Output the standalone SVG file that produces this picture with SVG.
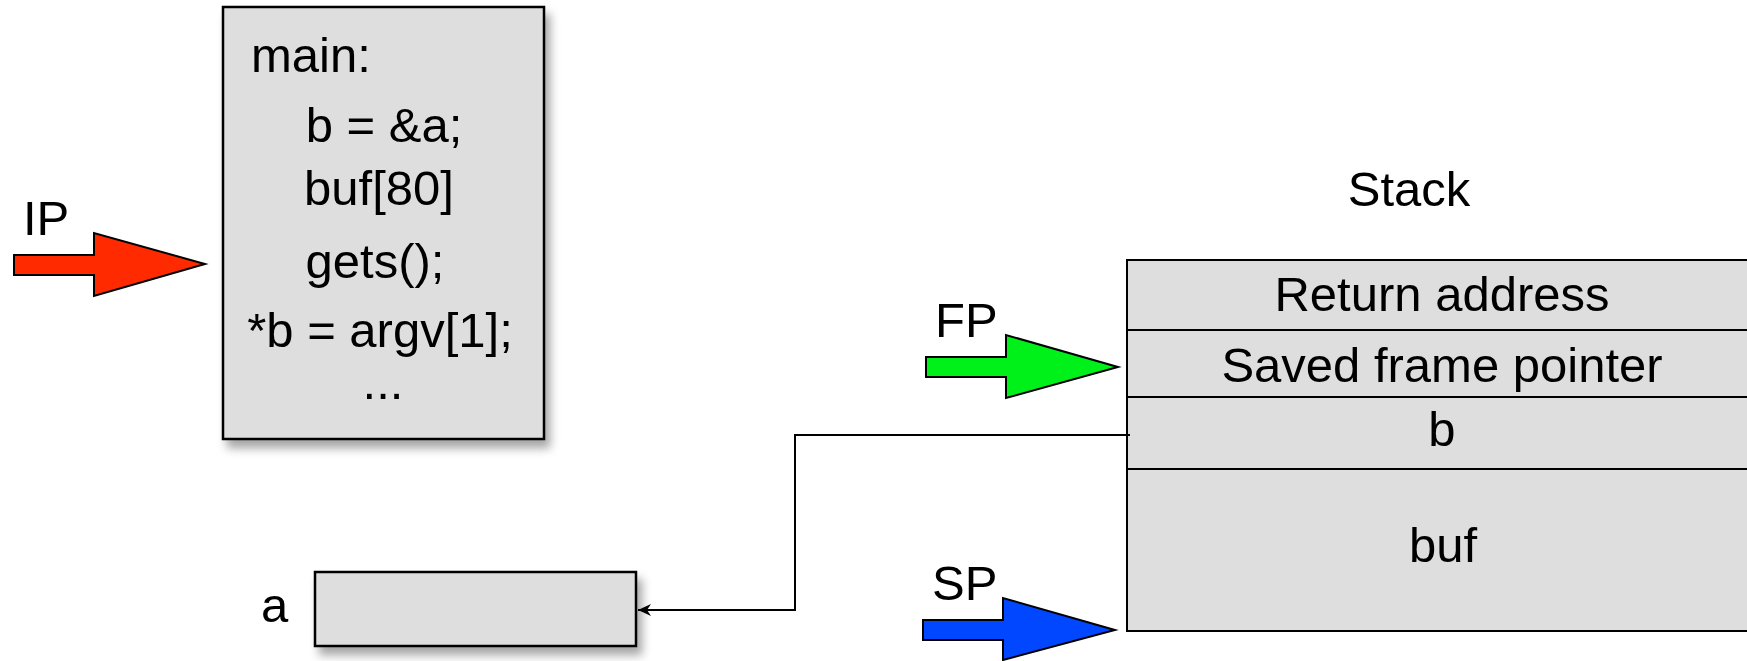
<svg xmlns="http://www.w3.org/2000/svg" width="1747" height="661" viewBox="0 0 1747 661">
<style>
  text { font-family: "Liberation Sans", Arial, sans-serif; font-size: 49px; fill: #000; }
  .mid { text-anchor: middle; }
  .box { fill: #dedede; stroke: #000; stroke-width: 2.5; }
  .cell { fill: #dedede; stroke: #000; stroke-width: 2; }
  .conn { fill: none; stroke: #000; stroke-width: 2; }
  .ptr { stroke: #000; stroke-width: 2; stroke-linejoin: miter; }
</style>
<defs>
  <filter id="shadow" x="-10%" y="-10%" width="130%" height="130%">
    <feDropShadow dx="5" dy="8" stdDeviation="5" flood-color="#000" flood-opacity="0.35"/>
  </filter>
  <marker id="arr" markerWidth="16" markerHeight="14" refX="15" refY="7" orient="auto" markerUnits="userSpaceOnUse">
    <path d="M15,7 L2,1 L6,7 L2,13 Z" fill="#000"/>
  </marker>
</defs>

<g id="ip">
  <text x="23" y="235">IP</text>
  <path class="ptr" fill="#ff2a00" d="M14,255 L94,255 L94,233 L205,264 L94,296 L94,275 L14,275 Z"/>
</g>

<g id="main">
  <rect class="box" x="223" y="7" width="321" height="432" filter="url(#shadow)"/>
  <text x="251" y="72">main:</text>
  <text class="mid" x="384" y="142">b = &amp;a;</text>
  <text class="mid" x="379" y="205">buf[80]</text>
  <text class="mid" x="375" y="278">gets();</text>
  <text class="mid" x="380" y="347">*b = argv[1];</text>
  <text class="mid" x="383" y="399">...</text>
</g>

<g id="a">
  <text x="261" y="622">a</text>
  <rect class="box" x="315" y="572" width="321" height="74" filter="url(#shadow)"/>
</g>

<g id="stack">
  <text class="mid" x="1409" y="206">Stack</text>
  <rect class="cell" x="1127" y="260" width="640" height="70"/>
  <rect class="cell" x="1127" y="330" width="640" height="67"/>
  <rect class="cell" x="1127" y="397" width="640" height="72"/>
  <rect class="cell" x="1127" y="469" width="640" height="162"/>
  <text class="mid" x="1442" y="311">Return address</text>
  <text class="mid" x="1442" y="382">Saved frame pointer</text>
  <text class="mid" x="1442" y="446">b</text>
  <text class="mid" x="1443" y="562">buf</text>
</g>

<g id="fp">
  <text x="935" y="337">FP</text>
  <path class="ptr" fill="#00f01a" d="M926,357 L1006,357 L1006,335 L1118,367 L1006,398 L1006,377 L926,377 Z"/>
</g>

<g id="sp">
  <text x="932" y="600">SP</text>
  <path class="ptr" fill="#0047ff" d="M923,620 L1003,620 L1003,598 L1115,630 L1003,660 L1003,640 L923,640 Z"/>
</g>

<g id="connectors">
  <path class="conn" d="M1130,435 L795,435 L795,610 L638,610" marker-end="url(#arr)"/>
</g>
</svg>
